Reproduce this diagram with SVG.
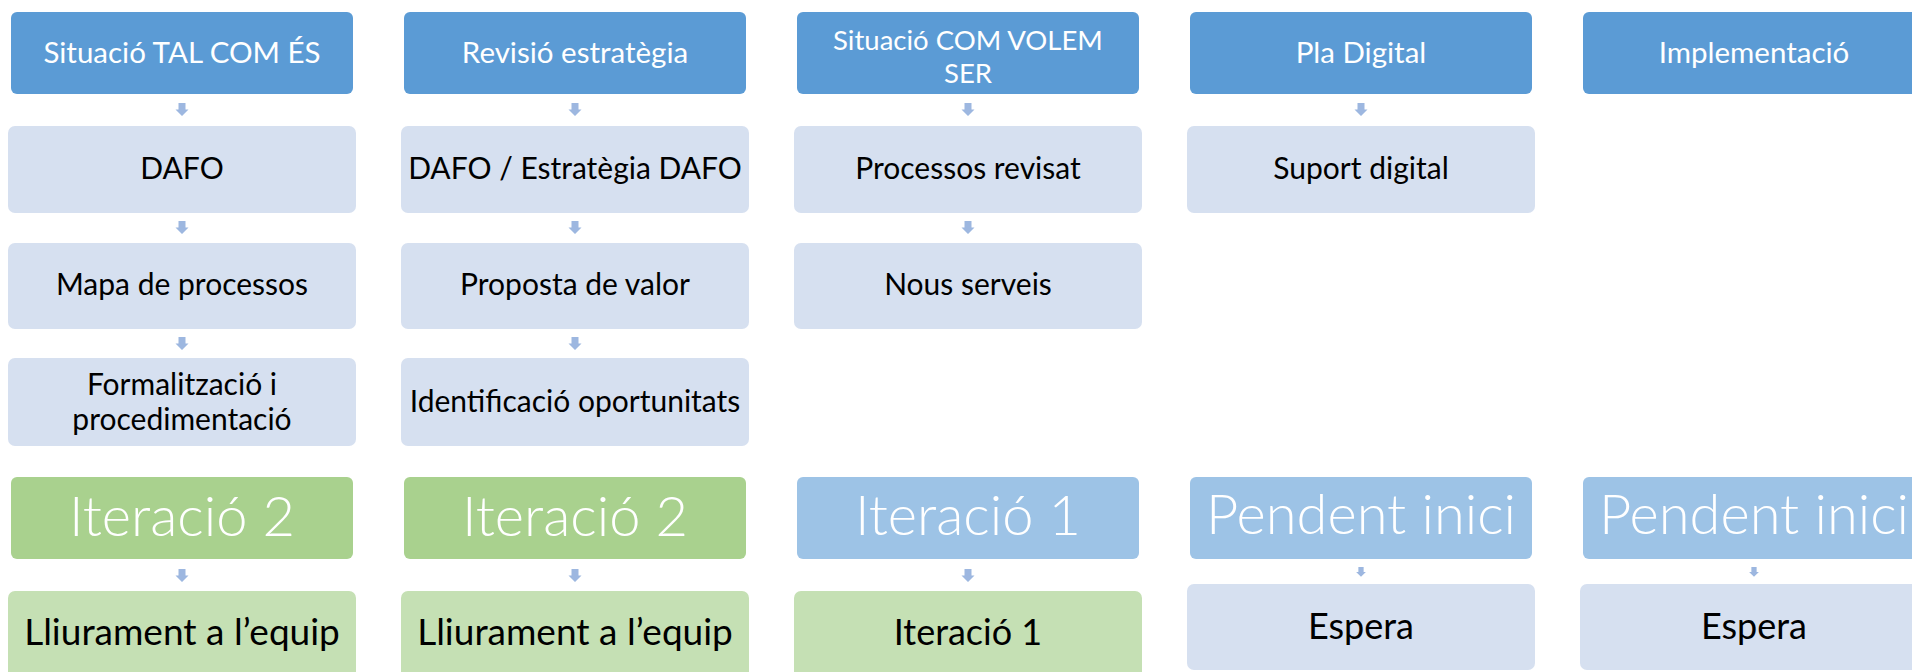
<svg xmlns="http://www.w3.org/2000/svg" width="1912" height="672" viewBox="0 0 1912 672">
<defs>
<style>
.hd{fill:#5B9BD5}
.lt{fill:#D6E0F0}
.gh{fill:#A9D18E}
.gl{fill:#C5E0B4}
.bh{fill:#9DC3E6}
.tw{font-family:Lato,"Liberation Sans",sans-serif;fill:#FFFFFF;font-size:29.5px;text-anchor:middle}
.tb{font-family:Lato,"Liberation Sans",sans-serif;fill:#000000;font-size:30px;text-anchor:middle}
.tl{font-family:Lato,"Liberation Sans",sans-serif;fill:#000000;font-size:36px;text-anchor:middle}
.tbig{font-family:Lato,"Liberation Sans",sans-serif;font-weight:300;fill:#FFFFFF;font-size:56px;text-anchor:middle}
.arr{fill:#9DB7E0}
</style>
<path id="ar" d="M-3.5,0 H3.5 V6.5 H6.5 L0,13 L-6.5,6.5 H-3.5 Z"/>
</defs>
<rect width="1912" height="672" fill="#FFFFFF"/>

<g id="connectors" class="arr">
<use href="#ar" x="182" y="103"/>
<use href="#ar" x="182" y="221"/>
<use href="#ar" x="182" y="337"/>
<use href="#ar" x="182" y="569"/>
<use href="#ar" x="575" y="103"/>
<use href="#ar" x="575" y="221"/>
<use href="#ar" x="575" y="337"/>
<use href="#ar" x="575" y="569"/>
<use href="#ar" x="968" y="103"/>
<use href="#ar" x="968" y="221"/>
<use href="#ar" x="968" y="569"/>
<use href="#ar" x="1361" y="103"/>
<use href="#ar" transform="translate(1361,567) scale(0.75)"/>
<use href="#ar" transform="translate(1754,567) scale(0.75)"/>
</g>

<!-- Column 1 -->
<g id="c1-head"><rect class="hd" x="11" y="12" width="342" height="82" rx="6"/><text class="tw" x="182" y="63">Situació TAL COM ÉS</text></g>
<g id="c1-dafo"><rect class="lt" x="8" y="126" width="348" height="87" rx="7"/><text class="tb" x="182" y="179">DAFO</text></g>
<g id="c1-mapa"><rect class="lt" x="8" y="243" width="348" height="86" rx="7"/><text class="tb" x="182" y="295">Mapa de processos</text></g>
<g id="c1-form"><rect class="lt" x="8" y="358" width="348" height="88" rx="7"/><text class="tb" x="182" y="395">Formalització i</text><text class="tb" x="182" y="430">procedimentació</text></g>
<g id="c1-status"><rect class="gh" x="11" y="477" width="342" height="82" rx="6"/><text class="tbig" x="182" y="536">Iteració 2</text></g>
<g id="c1-bottom"><rect class="gl" x="8" y="591" width="348" height="92" rx="7"/><text class="tl" x="182" y="645" style="font-size:37px">Lliurament a l’equip</text></g>

<!-- Column 2 -->
<g id="c2-head"><rect class="hd" x="404" y="12" width="342" height="82" rx="6"/><text class="tw" x="575" y="63">Revisió estratègia</text></g>
<g id="c2-dafo"><rect class="lt" x="401" y="126" width="348" height="87" rx="7"/><text class="tb" x="575" y="179">DAFO / Estratègia DAFO</text></g>
<g id="c2-prop"><rect class="lt" x="401" y="243" width="348" height="86" rx="7"/><text class="tb" x="575" y="295">Proposta de valor</text></g>
<g id="c2-ident"><rect class="lt" x="401" y="358" width="348" height="88" rx="7"/><text class="tb" x="575" y="412">Identificació oportunitats</text></g>
<g id="c2-status"><rect class="gh" x="404" y="477" width="342" height="82" rx="6"/><text class="tbig" x="575" y="536">Iteració 2</text></g>
<g id="c2-bottom"><rect class="gl" x="401" y="591" width="348" height="92" rx="7"/><text class="tl" x="575" y="645" style="font-size:37px">Lliurament a l’equip</text></g>

<!-- Column 3 -->
<g id="c3-head"><rect class="hd" x="797" y="12" width="342" height="82" rx="6"/><text class="tw" x="968" y="50" style="font-size:27.5px">Situació COM VOLEM</text><text class="tw" x="968" y="83" style="font-size:27.5px">SER</text></g>
<g id="c3-proc"><rect class="lt" x="794" y="126" width="348" height="87" rx="7"/><text class="tb" x="968" y="179">Processos revisat</text></g>
<g id="c3-nous"><rect class="lt" x="794" y="243" width="348" height="86" rx="7"/><text class="tb" x="968" y="295">Nous serveis</text></g>
<g id="c3-status"><rect class="bh" x="797" y="477" width="342" height="82" rx="6"/><text class="tbig" x="968" y="535">Iteració 1</text></g>
<g id="c3-bottom"><rect class="gl" x="794" y="591" width="348" height="92" rx="7"/><text class="tl" x="968" y="645">Iteració 1</text></g>

<!-- Column 4 -->
<g id="c4-head"><rect class="hd" x="1190" y="12" width="342" height="82" rx="6"/><text class="tw" x="1361" y="63">Pla Digital</text></g>
<g id="c4-suport"><rect class="lt" x="1187" y="126" width="348" height="87" rx="7"/><text class="tb" x="1361" y="179">Suport digital</text></g>
<g id="c4-status"><rect class="bh" x="1190" y="477" width="342" height="82" rx="6"/><text class="tbig" x="1361" y="534">Pendent inici</text></g>
<g id="c4-bottom"><rect class="lt" x="1187" y="584" width="348" height="86" rx="7"/><text class="tl" x="1361" y="639">Espera</text></g>

<!-- Column 5 -->
<g id="c5-head"><rect class="hd" x="1583" y="12" width="342" height="82" rx="6"/><text class="tw" x="1754" y="63">Implementació</text></g>
<g id="c5-status"><rect class="bh" x="1583" y="477" width="342" height="82" rx="6"/><text class="tbig" x="1754" y="534">Pendent inici</text></g>
<g id="c5-bottom"><rect class="lt" x="1580" y="584" width="348" height="86" rx="7"/><text class="tl" x="1754" y="639">Espera</text></g>
</svg>
